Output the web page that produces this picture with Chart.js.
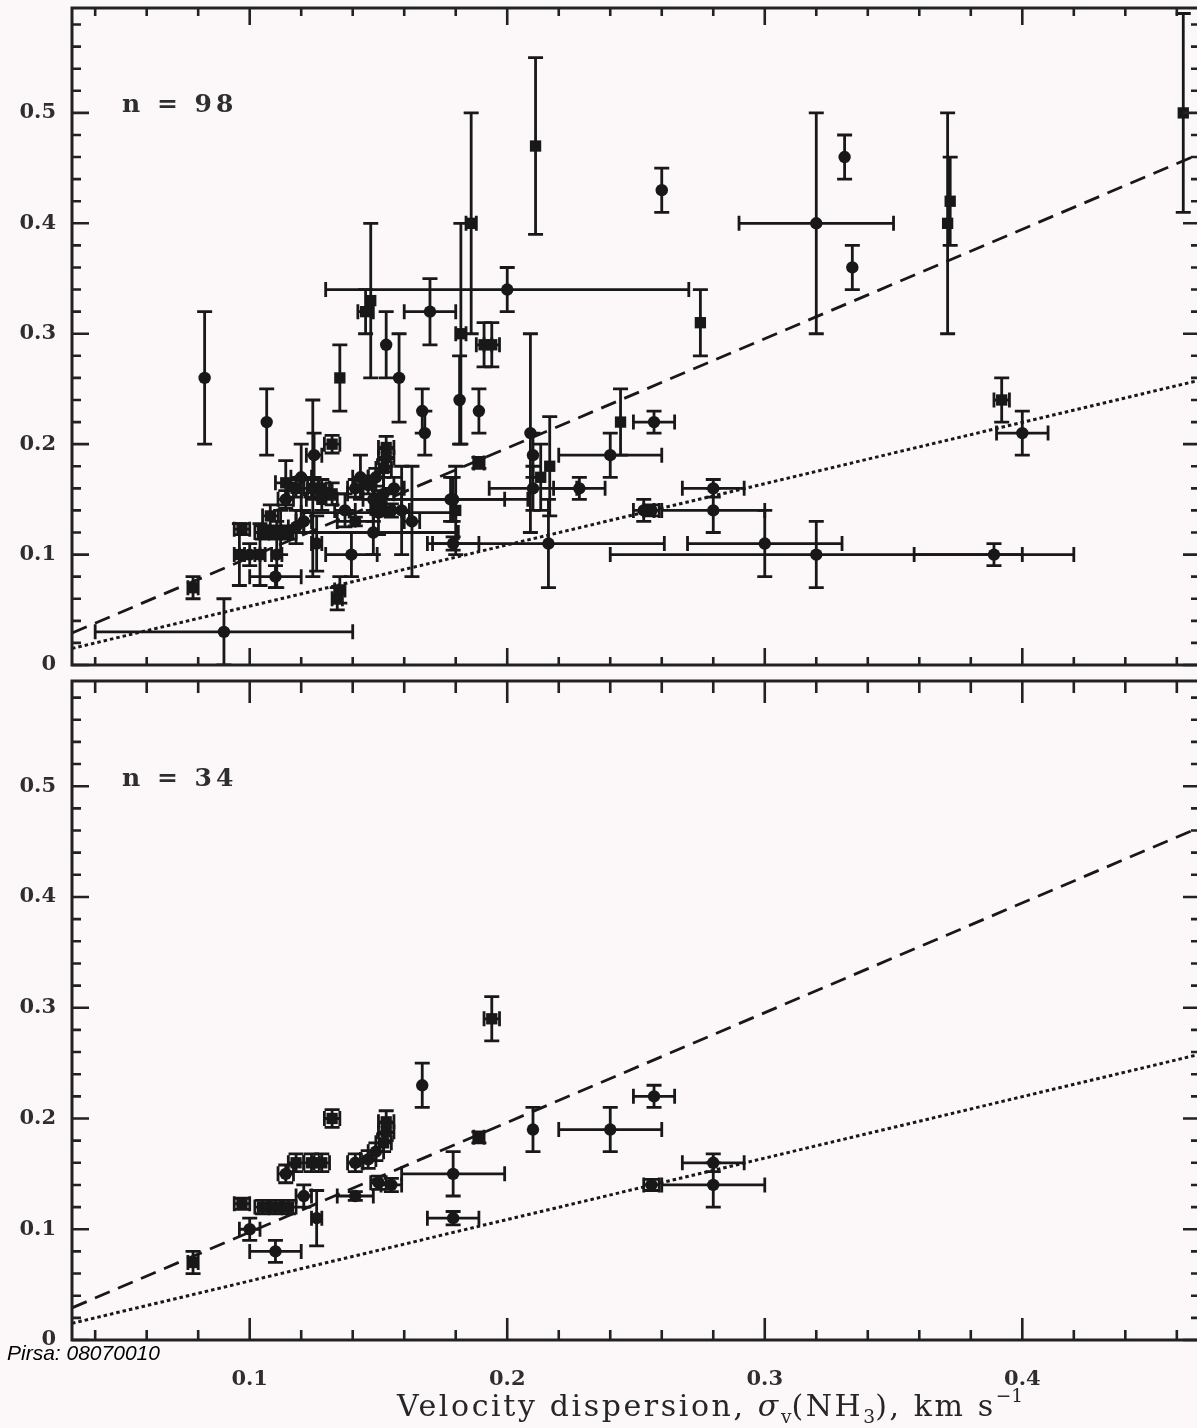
<!DOCTYPE html>
<html>
<head>
<meta charset="utf-8">
<script src="https://cdn.jsdelivr.net/npm/chart.js@4.4.1/dist/chart.umd.min.js"></script>
<style>
  html, body { margin: 0; padding: 0; background: #fcf8f9; overflow: hidden; }
  #page { position: relative; width: 1197px; height: 1428px; overflow: hidden; background: #fcf8f9; }
  #topWrap { position: absolute; left: 0; top: 0; width: 1210px; height: 673px; }
  #botWrap { position: absolute; left: 0; top: 673px; width: 1210px; height: 755px; }
  #xTitle {
    position: absolute; left: 397px; top: 1389px; line-height: 34px;
    font-family: "DejaVu Serif", serif; font-size: 30px; color: #262626;
    white-space: nowrap; letter-spacing: 2.6px;
  }
  #xTitle sub, #xTitle sup { font-size: 0.62em; line-height: 0; letter-spacing: 0; }
  #xTitle sub { vertical-align: -0.35em; }
  #xTitle sup { vertical-align: 0.75em; }
  #credit {
    position: absolute; left: 7px; top: 1341px;
    font-family: "Liberation Sans", Arial, sans-serif; font-style: italic;
    font-size: 21px; color: #000; white-space: nowrap;
  }
</style>
</head>
<body>
<div id="page">
  <div id="topWrap"><canvas id="topChart" width="1210" height="673"></canvas></div>
  <div id="botWrap"><canvas id="botChart" width="1210" height="755"></canvas></div>
  <div id="xTitle">Velocity dispersion, <i>σ</i><sub>v</sub>(NH<sub>3</sub>), km s<sup>−1</sup></div>
  <div id="credit">Pirsa: 08070010</div>
</div>
<script>
// Cores that appear in both panels: velocity dispersion, ordinate value and 1-sigma errors
const coreSigma    = [0.078,0.097,0.100,0.110,0.105,0.110,0.115,0.121,0.126,0.114,0.118,0.124,0.128,0.132,0.141,0.141,0.146,0.149,0.150,0.152,0.153,0.153,0.155,0.167,0.179,0.179,0.189,0.194,0.210,0.240,0.257,0.256,0.280,0.280];
const coreValue    = [0.070,0.123,0.100,0.080,0.120,0.120,0.120,0.130,0.110,0.150,0.160,0.160,0.160,0.200,0.130,0.160,0.163,0.170,0.142,0.178,0.188,0.197,0.140,0.230,0.150,0.110,0.183,0.290,0.190,0.190,0.220,0.140,0.160,0.140];
const coreSigmaErr = [0.002,0.003,0.004,0.010,0.003,0.003,0.003,0.003,0.002,0.003,0.003,0.003,0.003,0.003,0.007,0.003,0.003,0.003,0.003,0.003,0.003,0.003,0.004,0.000,0.020,0.010,0.002,0.003,0.000,0.020,0.008,0.003,0.012,0.020];
const coreValueErr = [0.010,0.005,0.010,0.010,0.006,0.006,0.006,0.010,0.025,0.008,0.008,0.008,0.008,0.008,0.004,0.008,0.008,0.008,0.006,0.008,0.008,0.010,0.006,0.020,0.020,0.006,0.005,0.020,0.020,0.020,0.010,0.005,0.008,0.020];
const coreMarker   = ['s','s','c','c','s','s','s','c','c','c','s','s','s','s','c','c','c','c','c','s','s','s','c','c','c','c','s','s','c','c','c','c','c','c'];

// Remaining cores, plotted only in the upper panel
const extraSigma = [0.0825,0.1066,0.135,0.090,0.147,0.145,0.153,0.158,0.170,0.200,
  0.186,0.182,0.1815,0.189,0.211,0.260,0.275,0.320,0.331,0.334,
  0.371,0.372,0.4625,0.392,0.400,0.389,0.320,0.300,0.216,0.228,
  0.244,0.209,0.213,0.2165,0.210,0.253,0.168,0.180,0.178,0.191,
  0.096,0.104,0.1105,0.112,0.114,0.120,0.1245,0.125,0.128,0.132,
  0.137,0.134,0.135,0.1395,0.148,0.150,0.163,0.159,0.148,0.152,
  0.156,0.143,0.118,0.108];
const extraValue = [0.26,0.22,0.26,0.03,0.33,0.32,0.29,0.26,0.32,0.34,
  0.40,0.30,0.24,0.23,0.47,0.43,0.31,0.40,0.46,0.36,
  0.40,0.42,0.50,0.24,0.21,0.10,0.10,0.11,0.11,0.16,
  0.22,0.21,0.17,0.18,0.16,0.14,0.21,0.14,0.15,0.29,
  0.10,0.10,0.10,0.12,0.165,0.17,0.16,0.19,0.15,0.155,
  0.14,0.06,0.068,0.10,0.12,0.138,0.13,0.14,0.15,0.155,
  0.16,0.17,0.125,0.135];
const extraSigmaErr = [0,0,0,0.05,0,0.003,0,0,0.01,0.0705,
  0.002,0.002,0,0,0,0,0,0.03,0,0,
  0,0,0,0.003,0.01,0.031,0.08,0.03,0.045,0.01,
  0,0,0,0,0.017,0.004,0,0,0.03,0.003,
  0.002,0.002,0.002,0.003,0.004,0.004,0.002,0.003,0.006,0.006,
  0.004,0.002,0.002,0.01,0.033,0.03,0.003,0.003,0.004,0.004,
  0.004,0.003,0.003,0.003];
const extraValueErr = [0.06,0.03,0.03,0.03,0.07,0.02,0.03,0.04,0.03,0.02,
  0.10,0.10,0.04,0.02,0.08,0.02,0.03,0.10,0.02,0.02,
  0.10,0.04,0.09,0.02,0.02,0.01,0.03,0.03,0.04,0.01,
  0.03,0.09,0.03,0.045,0.02,0.01,0.02,0.04,0.02,0.02,
  0.028,0.028,0.03,0.02,0.02,0.03,0.08,0.02,0.01,0.01,
  0.015,0.01,0.012,0.02,0.02,0.02,0.05,0.04,0.02,0.02,
  0.01,0.02,0.015,0.01];
const extraMarker = ['c','c','s','c','s','s','c','c','c','c',
  's','s','c','c','s','c','s','c','c','c',
  's','s','s','s','c','c','c','c','c','c',
  's','c','s','s','c','c','c','s','c','s',
  's','s','c','c','s','c','c','c','s','s',
  'c','s','s','c','c','c','c','c','c','c',
  'c','c','c','s'];

// Reference relations drawn across each panel
const fitSigma  = [0.031, 0.469];
const dashedFit = [0.029, 0.463];
const dottedFit = [0.015, 0.258];

// Axis ranges and labelled ticks
const xRange = [0.031, 0.469];
const yRange = [0, 0.595];
const xTickValues = [0.1, 0.2, 0.3, 0.4];
const xTickLabels = ['0.1', '0.2', '0.3', '0.4'];
const yTickValues = [0, 0.1, 0.2, 0.3, 0.4, 0.5];
const yTickLabels = ['0', '0.1', '0.2', '0.3', '0.4', '0.5'];
const panelLabels = ['n = 98', 'n = 34'];

const INK = '#181818';
const TEXT = '#2e2e2e';

function buildSet(xs, ys, xe, ye, mk) {
  return { x: xs, y: ys, xe: xe, ye: ye, mk: mk };
}
const coreSet  = buildSet(coreSigma, coreValue, coreSigmaErr, coreValueErr, coreMarker);
const extraSet = buildSet(extraSigma, extraValue, extraSigmaErr, extraValueErr, extraMarker);

function points(set, kind) {
  const out = [];
  set.x.forEach((v, i) => { if (set.mk[i] === kind) out.push({ x: v, y: set.y[i] }); });
  return out;
}

// Error bars with end caps, drawn beneath the markers
const errorBarPlugin = {
  id: 'errorBars',
  beforeDatasetsDraw(chart, args, opts) {
    const { ctx, chartArea: a } = chart;
    const xs = chart.scales.x, ys = chart.scales.y;
    ctx.save();
    ctx.beginPath();
    ctx.rect(a.left, a.top, a.right - a.left, a.bottom - a.top);
    ctx.clip();
    ctx.strokeStyle = INK;
    ctx.lineWidth = 2.8;
    ctx.lineCap = 'butt';
    const cap = 7.5;
    opts.sets.forEach(s => {
      s.x.forEach((v, i) => {
        const px = xs.getPixelForValue(v);
        const py = ys.getPixelForValue(s.y[i]);
        ctx.beginPath();
        if (s.xe[i] > 0) {
          const x0 = xs.getPixelForValue(v - s.xe[i]);
          const x1 = xs.getPixelForValue(v + s.xe[i]);
          ctx.moveTo(x0, py); ctx.lineTo(x1, py);
          ctx.moveTo(x0, py - cap); ctx.lineTo(x0, py + cap);
          ctx.moveTo(x1, py - cap); ctx.lineTo(x1, py + cap);
        }
        if (s.ye[i] > 0) {
          const y0 = ys.getPixelForValue(s.y[i] - s.ye[i]);
          const y1 = ys.getPixelForValue(s.y[i] + s.ye[i]);
          ctx.moveTo(px, y0); ctx.lineTo(px, y1);
          ctx.moveTo(px - cap, y0); ctx.lineTo(px + cap, y0);
          ctx.moveTo(px - cap, y1); ctx.lineTo(px + cap, y1);
        }
        ctx.stroke();
      });
    });
    ctx.restore();
  }
};

// Box frame with inward ticks every 0.02 (longer every 0.1) and the panel label
const framePlugin = {
  id: 'frame',
  afterDatasetsDraw(chart, args, o) {
    const { ctx, chartArea: a } = chart;
    const xs = chart.scales.x, ys = chart.scales.y;
    ctx.save();
    ctx.strokeStyle = '#222';
    ctx.lineWidth = 3;
    ctx.strokeRect(a.left, a.top, a.right - a.left, a.bottom - a.top);
    ctx.lineWidth = 2.6;
    ctx.beginPath();
    const kx0 = Math.ceil(xs.min / 0.02 - 1e-6), kx1 = Math.floor(xs.max / 0.02 + 1e-6);
    for (let k = kx0; k <= kx1; k++) {
      const px = xs.getPixelForValue(k * 0.02);
      const major = k % 5 === 0;
      const lb = major ? o.majorBottom : o.minorBottom;
      const lt = major ? o.majorTop : o.minorTop;
      ctx.moveTo(px, a.bottom); ctx.lineTo(px, a.bottom - lb);
      ctx.moveTo(px, a.top); ctx.lineTo(px, a.top + lt);
    }
    const ky0 = Math.ceil(ys.min / 0.02 - 1e-6), ky1 = Math.floor(ys.max / 0.02 + 1e-6);
    for (let k = ky0; k <= ky1; k++) {
      const py = ys.getPixelForValue(k * 0.02);
      const len = k % 5 === 0 ? 17 : 9;
      ctx.moveTo(a.left, py); ctx.lineTo(a.left + len, py);
      ctx.moveTo(a.right, py); ctx.lineTo(a.right - len, py);
    }
    ctx.stroke();
    ctx.fillStyle = TEXT;
    ctx.font = 'bold 25px "DejaVu Serif"';
    ctx.textBaseline = 'middle';
    ctx.textAlign = 'left';
    ctx.letterSpacing = '4px';
    ctx.fillText(o.label, a.left + 50, a.top + o.labelDy);
    ctx.restore();
  }
};

function makeChart(canvasId, sets, label, showX, pad, ticks) {
  const datasets = [
    {
      type: 'line', data: fitSigma.map((v, i) => ({ x: v, y: dashedFit[i] })),
      borderColor: INK, borderWidth: 2.8, borderDash: [16, 9], pointRadius: 0, fill: false
    },
    {
      type: 'line', data: fitSigma.map((v, i) => ({ x: v, y: dottedFit[i] })),
      borderColor: INK, borderWidth: 3, borderDash: [3.5, 3], pointRadius: 0, fill: false
    }
  ];
  sets.forEach(s => {
    datasets.push({
      type: 'scatter', data: points(s, 'c'), pointStyle: 'circle', pointRadius: 6.2,
      backgroundColor: INK, borderWidth: 0
    });
    datasets.push({
      type: 'scatter', data: points(s, 's'), pointStyle: 'rect', pointRadius: 8,
      backgroundColor: INK, borderWidth: 0
    });
  });
  return new Chart(document.getElementById(canvasId), {
    type: 'scatter',
    data: { datasets },
    options: {
      responsive: false,
      animation: false,
      events: [],
      layout: { padding: pad },
      plugins: {
        legend: { display: false },
        tooltip: { enabled: false },
        errorBars: { sets },
        frame: Object.assign({ label }, ticks)
      },
      scales: {
        x: {
          type: 'linear', min: xRange[0], max: xRange[1], display: showX,
          grid: { display: false, drawTicks: false }, border: { display: false },
          ticks: {
            padding: 27, color: TEXT, maxRotation: 0, autoSkip: false,
            font: { family: 'DejaVu Serif', size: 21, weight: 'bold' },
            callback: (v, i) => xTickLabels[i]
          },
          afterBuildTicks: s => { s.ticks = xTickValues.map(v => ({ value: v })); },
          afterFit: s => {
            s.height = showX ? 88 : 0;
            s.paddingLeft = 0; s.paddingRight = 0;
          }
        },
        y: {
          type: 'linear', min: yRange[0], max: yRange[1],
          grid: { display: false, drawTicks: false }, border: { display: false },
          ticks: {
            padding: 16, color: TEXT, autoSkip: false,
            font: { family: 'DejaVu Serif', size: 21, weight: 'bold' },
            callback: (v, i) => yTickLabels[i]
          },
          afterBuildTicks: s => { s.ticks = yTickValues.map(v => ({ value: v })); },
          afterFit: s => { s.width = 72; s.paddingTop = 0; s.paddingBottom = 0; }
        }
      }
    },
    plugins: [errorBarPlugin, framePlugin]
  });
}

makeChart('topChart', [coreSet, extraSet], panelLabels[0], false,
  { left: 0, right: 10, top: 6, bottom: 4 },
  { majorTop: 17, minorTop: 8, majorBottom: 17, minorBottom: 8, labelDy: 97 });
makeChart('botChart', [coreSet], panelLabels[1], true,
  { left: 0, right: 10, top: 4, bottom: 0 },
  { majorTop: 22, minorTop: 12, majorBottom: 22, minorBottom: 10, labelDy: 98 });
</script>
</body>
</html>
